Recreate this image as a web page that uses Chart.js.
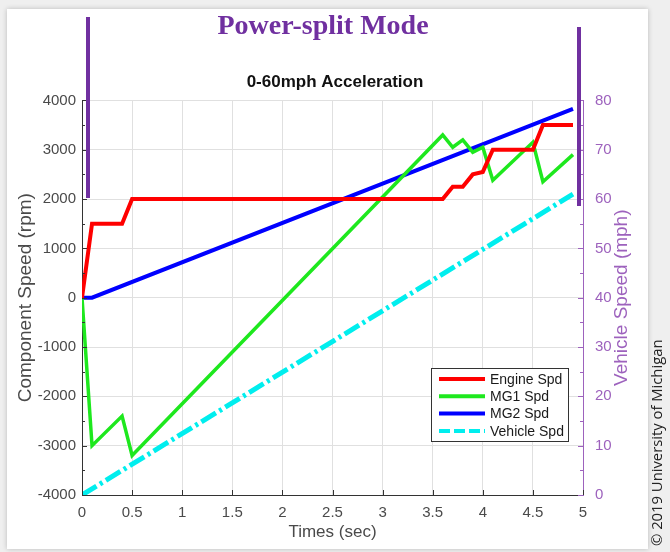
<!DOCTYPE html>
<html>
<head>
<meta charset="utf-8">
<script src="https://cdn.jsdelivr.net/npm/chart.js@4/dist/chart.umd.min.js"></script>
<style>
  body { margin: 0; background: #efefef; }
  #wrap { position: relative; width: 670px; height: 552px; overflow: hidden; }
  #card { position: absolute; left: 7px; top: 9px; width: 641px; height: 540px; background: #fff;
          box-shadow: 0 0 5px rgba(0,0,0,0.22); }
  #slideTitle { position: absolute; left: 0; top: 9px; width: 646px; text-align: center;
                font: bold 28px "Liberation Serif", serif; line-height: 32px; color: #7030a0; }
  .bar { position: absolute; width: 4px; background: #7030a0; }
  #copy { position: absolute; left: 0; top: 0; white-space: nowrap; font: 14.8px "Open Sans", sans-serif;
          line-height: 19px; color: #222; transform-origin: 0 0; transform: translate(647px, 546px) rotate(-90deg); }
  canvas { position: absolute; left: 0; top: 0; }
</style>
</head>
<body>
<div id="wrap">
  <div id="card"></div>
  <canvas id="speedChart" width="670" height="552"></canvas>
  <div id="slideTitle">Power-split Mode</div>
  <div class="bar" style="left:86px; top:17px; height:181px;"></div>
  <div class="bar" style="left:577px; top:27px; height:179px;"></div>
  <div id="copy">© 2019 University of Michigan</div>
</div>
<script>
// time (s) and speeds during the 0-60 mph run
const engineTime = [0, 0.1, 0.4, 0.5, 3.6, 3.7, 3.8, 3.9, 4.0, 4.1, 4.5, 4.6, 4.9];
const engineSpd  = [0, 1500, 1500, 2000, 2000, 2250, 2250, 2500, 2550, 3000, 3000, 3500, 3500];

const mg1Time = [0, 0.1, 0.4, 0.5, 3.6, 3.7, 3.8, 3.9, 4.0, 4.1, 4.5, 4.6, 4.9];
const mg1Spd  = [0, -3000, -2400, -3200, 3300, 3050, 3200, 2950, 3050, 2380, 3150, 2350, 2900];

const mg2Time = [0, 0.1, 4.9];
const mg2Spd  = [0, 0, 3830];

const vehTime = [0, 4.9];
const vehSpd  = [0, 61];   // mph, right axis

const seriesNames = ['Engine Spd', 'MG1 Spd', 'MG2 Spd', 'Vehicle Spd'];

const timeTicks = [0, 0.5, 1, 1.5, 2, 2.5, 3, 3.5, 4, 4.5, 5];
const rpmTicks  = [-4000, -3000, -2000, -1000, 0, 1000, 2000, 3000, 4000];
const mphTicks  = [0, 10, 20, 30, 40, 50, 60, 70, 80];

const PURPLE = '#9d62bd';
const AXIS = '#333';
const TXT = '#4a4a4a';

const pts = (xs, ys) => xs.map((x, i) => ({ x, y: ys[i] }));

// MATLAB-style ticks pointing into the plot
const innerTicks = {
  id: 'innerTicks',
  afterDatasetsDraw(chart) {
    const { ctx, chartArea: a, scales: { x, y, y2 } } = chart;
    ctx.save();
    ctx.lineWidth = 1;
    ctx.strokeStyle = AXIS;
    ctx.beginPath();
    timeTicks.forEach(v => {
      const px = Math.round(x.getPixelForValue(v)) + 0.5;
      ctx.moveTo(px, a.bottom); ctx.lineTo(px, a.bottom - 5);
    });
    for (let v = rpmTicks[0]; v <= rpmTicks[rpmTicks.length - 1]; v += 500) {
      const py = Math.round(y.getPixelForValue(v)) + 0.5;
      ctx.moveTo(a.left, py); ctx.lineTo(a.left + (v % 1000 ? 3 : 5), py);
    }
    ctx.stroke();
    ctx.strokeStyle = PURPLE;
    ctx.beginPath();
    for (let v = mphTicks[0]; v <= mphTicks[mphTicks.length - 1]; v += 5) {
      const py = Math.round(y2.getPixelForValue(v)) + 0.5;
      ctx.moveTo(a.right, py); ctx.lineTo(a.right - (v % 10 ? 3 : 5), py);
    }
    ctx.stroke();
    ctx.restore();
  }
};

// right axis label reads bottom-to-top, and the boxed legend sits inside the plot
const extras = {
  id: 'extras',
  afterDraw(chart) {
    const { ctx, chartArea: a } = chart;
    ctx.save();
    ctx.translate(622, (a.top + a.bottom) / 2);
    ctx.rotate(-Math.PI / 2);
    ctx.font = '19px "Liberation Sans", Arial, sans-serif';
    ctx.fillStyle = PURPLE;
    ctx.textAlign = 'center';
    ctx.textBaseline = 'middle';
    ctx.fillText('Vehicle Speed (mph)', 0, 0);
    ctx.restore();

    const bx = 431, by = 368, bw = 137, bh = 73;
    ctx.save();
    ctx.fillStyle = '#fff';
    ctx.fillRect(bx, by, bw, bh);
    ctx.strokeStyle = '#333';
    ctx.lineWidth = 1;
    ctx.strokeRect(bx + 0.5, by + 0.5, bw, bh);
    ctx.font = '14px "Liberation Sans", Arial, sans-serif';
    ctx.textBaseline = 'middle';
    chart.data.datasets.forEach((ds, i) => {
      const ry = by + 11 + i * 17.3;
      ctx.strokeStyle = ds.borderColor;
      ctx.lineWidth = 4;
      ctx.setLineDash(ds.borderDash ? [11, 4] : []);
      ctx.beginPath();
      ctx.moveTo(bx + 8, ry); ctx.lineTo(bx + 54, ry);
      ctx.stroke();
      ctx.fillStyle = '#1a1a1a';
      ctx.fillText(ds.label, bx + 59, ry + 1);
    });
    ctx.restore();
  }
};

const lineStyle = { pointRadius: 0, tension: 0, borderWidth: 4, borderJoinStyle: 'miter', fill: false };

new Chart(document.getElementById('speedChart'), {
  type: 'line',
  data: {
    datasets: [
      { label: seriesNames[0], data: pts(engineTime, engineSpd), borderColor: '#ff0000', yAxisID: 'y', ...lineStyle },
      { label: seriesNames[1], data: pts(mg1Time, mg1Spd), borderColor: '#1ee81e', yAxisID: 'y', ...lineStyle, borderWidth: 3.5 },
      { label: seriesNames[2], data: pts(mg2Time, mg2Spd), borderColor: '#0000ff', yAxisID: 'y', ...lineStyle },
      { label: seriesNames[3], data: pts(vehTime, vehSpd), borderColor: '#00eeee', yAxisID: 'y2', ...lineStyle,
        borderWidth: 5, borderDash: [17, 4, 3, 4], borderCapStyle: 'butt' }
    ]
  },
  options: {
    responsive: false,
    animation: false,
    layout: { padding: { top: 68, left: 0, right: 0, bottom: 0 } },
    plugins: {
      legend: { display: false },
      tooltip: { enabled: false },
      title: {
        display: true, text: '0-60mph Acceleration', color: '#111',
        font: { family: '"Liberation Sans", Arial, sans-serif', size: 17, weight: 'bold' },
        padding: { top: 4, bottom: 8 }
      }
    },
    scales: {
      x: {
        type: 'linear', min: 0, max: 5,
        afterBuildTicks: s => { s.ticks = timeTicks.map(v => ({ value: v })); },
        afterFit: s => { s.height = 57; },
        ticks: { color: TXT, padding: 9, maxRotation: 0, font: { family: '"Liberation Sans", Arial', size: 15 },
                 callback: v => String(v) },
        grid: { color: '#e0e0e0', drawTicks: false },
        border: { color: AXIS, width: 1 },
        title: { display: true, text: 'Times (sec)', color: TXT, padding: { top: 0, bottom: 9 },
                 font: { family: '"Liberation Sans", Arial', size: 17 } }
      },
      y: {
        position: 'left', min: -4000, max: 4000,
        afterBuildTicks: s => { s.ticks = rpmTicks.map(v => ({ value: v })); },
        afterFit: s => { s.width = 82; },
        ticks: { color: TXT, padding: 6, font: { family: '"Liberation Sans", Arial', size: 15 },
                 callback: v => String(v) },
        grid: { color: '#e0e0e0', drawTicks: false },
        border: { color: AXIS, width: 1 },
        title: { display: true, text: 'Component Speed (rpm)', color: TXT, padding: { top: 14, bottom: 0 },
                 font: { family: '"Liberation Sans", Arial', size: 19 } }
      },
      y2: {
        position: 'right', min: 0, max: 80,
        afterBuildTicks: s => { s.ticks = mphTicks.map(v => ({ value: v })); },
        afterFit: s => { s.width = 87; },
        ticks: { color: PURPLE, padding: 12, font: { family: '"Liberation Sans", Arial', size: 15 },
                 callback: v => String(v) },
        grid: { display: false, drawTicks: false },
        border: { color: PURPLE, width: 1 }
      }
    }
  },
  plugins: [innerTicks, extras]
});
</script>
</body>
</html>
